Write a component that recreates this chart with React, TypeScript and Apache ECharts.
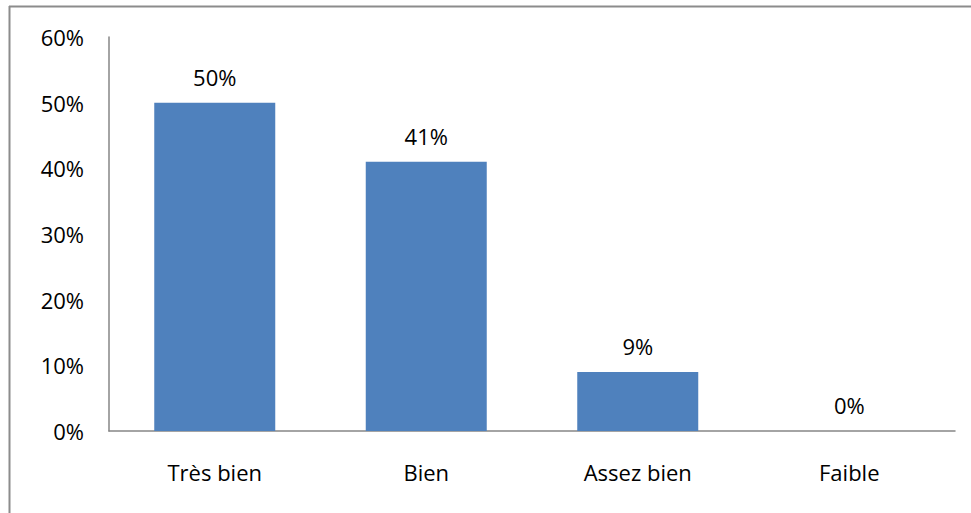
import React, { useEffect, useRef } from "react";
import * as echarts from "echarts";

const categories = ["Très bien", "Bien", "Assez bien", "Faible"];
const values = [50, 41, 9, 0];
const yTicks = [0, 10, 20, 30, 40, 50, 60];

const FONT = "Open Sans";
const FS = 22;

export default function App() {
  const ref = useRef<HTMLDivElement>(null);
  useEffect(() => {
    document.body.style.margin = "0";
    const chart = echarts.init(ref.current!, null, { renderer: "svg" });
    chart.setOption({
      animation: false,
      backgroundColor: "#ffffff",
      graphic: [
        { type: "line", shape: { x1: 9, y1: 6.5, x2: 971, y2: 6.5 }, style: { stroke: "#8c8c8c", lineWidth: 2 } },
        { type: "line", shape: { x1: 9.5, y1: 6, x2: 9.5, y2: 513 }, style: { stroke: "#8c8c8c", lineWidth: 2 } },
      ],
      grid: { left: 109, right: 16, top: 37, bottom: 82, containLabel: false },
      xAxis: {
        type: "category",
        data: categories,
        axisLine: { lineStyle: { color: "#868686", width: 1.5 } },
        axisTick: { show: false },
        axisLabel: { color: "#000", fontFamily: FONT, fontSize: FS, margin: 30 },
      },
      yAxis: {
        type: "value",
        min: yTicks[0],
        max: yTicks[yTicks.length - 1],
        interval: 10,
        splitLine: { show: false },
        axisLine: { show: true, lineStyle: { color: "#868686", width: 1.5 } },
        axisTick: { show: false },
        axisLabel: {
          color: "#000",
          fontFamily: FONT,
          fontSize: FS,
          margin: 25,
          formatter: (v: number) => v + "%",
        },
      },
      series: [
        {
          type: "bar",
          data: values,
          barWidth: 121,
          itemStyle: { color: "#4F81BD" },
          label: {
            show: true,
            position: "top",
            distance: 15,
            color: "#000",
            fontFamily: FONT,
            fontSize: FS,
            formatter: (p: any) => p.value + "%",
          },
        },
      ],
    });
    return () => chart.dispose();
  }, []);
  return (
    <div
      ref={ref}
      style={{ position: "fixed", left: 0, top: 0, width: 971, height: 513 }}
    />
  );
}
